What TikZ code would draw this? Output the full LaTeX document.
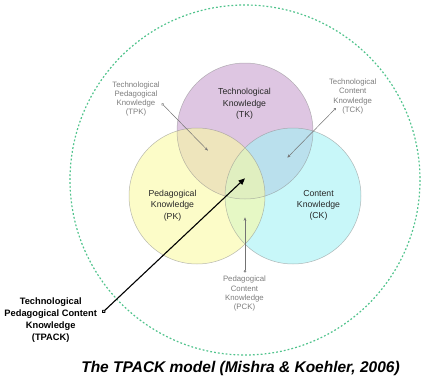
\documentclass[tikz,border=0pt]{standalone}
\usepackage{fontspec}
\setmainfont{Liberation Sans}
\usetikzlibrary{arrows.meta}
\definecolor{tkc}{RGB}{200,160,206}
\definecolor{pkc}{RGB}{250,250,163}
\definecolor{ckc}{RGB}{163,242,245}
\definecolor{dotc}{RGB}{80,195,140}
\definecolor{lblc}{RGB}{125,125,125}
\definecolor{mainc}{RGB}{40,40,40}
\tikzset{
  venn/.style={fill opacity=0.6},
  rim/.style={draw=black!45, line width=0.5pt, draw opacity=0.6},
  mainlbl/.style={align=center, inner sep=0pt, text=mainc, font=\fontsize{8.7}{11.3}\selectfont},
  sublbl/.style={align=center, inner sep=0pt, text=lblc, font=\fontsize{7.8}{9.3}\selectfont},
  boldlbl/.style={align=center, inner sep=0pt, text=black, font=\fontsize{9.3}{11.9}\selectfont\bfseries},
  pointer/.style={draw=black!55, line width=0.5pt, {Circle[open,length=2.6pt,width=2.6pt]}-{Stealth[length=3.5pt,width=2.6pt]}},
  bigpointer/.style={draw=black, line width=1.1pt, {Circle[open,length=4pt,width=4pt,line width=0.8pt]}-{Triangle[length=6.5pt,width=5.5pt]}}
}
\begin{document}
\begin{tikzpicture}[x=1pt,y=-1pt]
\useasboundingbox (0,0) rectangle (440,380);
% outer dotted circle
\draw[dotc, line width=1.2pt, dash pattern=on 1.8pt off 2.1pt] (245,180) circle[radius=175];
% venn fills
\fill[tkc, venn] (245,131) circle[radius=68];
\fill[ckc, venn] (293,196) circle[radius=68];
\fill[pkc, venn] (197,196) circle[radius=68];
% outlines
\draw[rim] (245,131) circle[radius=68];
\draw[rim] (293,196) circle[radius=68];
\draw[rim] (197,196) circle[radius=68];
% main labels
\node[mainlbl] (tk) at (244.5,104) {Technological\\Knowledge\\(TK)};
\node[mainlbl] (pk) at (172.5,205.5) {Pedagogical\\Knowledge\\(PK)};
\node[mainlbl] (ck) at (318.5,205.5) {Content\\Knowledge\\(CK)};
% sub labels
\node[sublbl] (tpk) at (136,99) {Technological\\Pedagogical\\Knowledge\\(TPK)};
\node[sublbl] (tck) at (352.7,96.5) {Technological\\Content\\Knowledge\\(TCK)};
\node[sublbl] (pck) at (244.5,293.8) {Pedagogical\\Content\\Knowledge\\(PCK)};
\node[boldlbl] (tpack) at (50.7,320.2) {Technological\\Pedagogical Content\\Knowledge\\(TPACK)};
% caption
\node[inner sep=0pt, font=\fontsize{15.5}{18}\selectfont\bfseries\itshape] (cap) at (240.5,368) {The TPACK model (Mishra \& Koehler, 2006)};
% pointer ends
\coordinate (tpkdot) at (161.8,103.5);
\coordinate (tpktip) at (208,150.7);
\coordinate (tckdot) at (335.7,108.3);
\coordinate (tcktip) at (287.3,157.7);
\coordinate (pckdot) at (245,272.5);
\coordinate (pcktip) at (245,217.3);
\coordinate (tpackdot) at (102.3,312.7);
\coordinate (tpacktip) at (245,178.3);
\draw[pointer] (tpkdot) -- (tpktip);
\draw[pointer] (tckdot) -- (tcktip);
\draw[pointer] (pckdot) -- (pcktip);
\draw[bigpointer] (tpackdot) -- (tpacktip);
\end{tikzpicture}
\end{document}
